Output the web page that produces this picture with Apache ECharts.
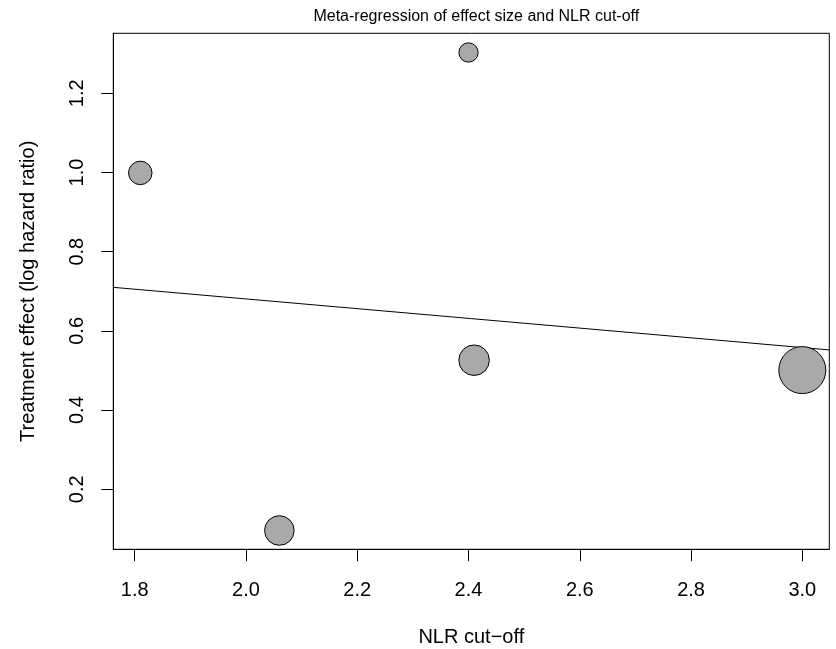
<!DOCTYPE html>
<html>
<head>
<meta charset="utf-8">
<script src="https://cdn.jsdelivr.net/npm/echarts@6/dist/echarts.min.js"></script>
<style>
html,body{margin:0;padding:0;background:#fff;}
#chart{width:836px;height:649px;}
</style>
</head>
<body>
<div id="chart"></div>
<script>
// Study-level data (NLR cut-off vs log hazard ratio)
const nlrCutoff = [1.81, 2.40, 2.06, 2.41, 3.00];
const logHR = [0.999, 1.303, 0.096, 0.526, 0.501];
// relative study weights (bubble size, largest = 1)
const studyWeight = [0.50, 0.41, 0.63, 0.65, 1.00];
// fitted meta-regression line (ends at plot edges)
const fitX = [1.7615, 3.0485];
const fitY = [0.710, 0.552];
// tick labels
const xTicks = [1.8, 2.0, 2.2, 2.4, 2.6, 2.8, 3.0];
const yTicks = [0.2, 0.4, 0.6, 0.8, 1.0, 1.2];

const FONT = "'Liberation Sans', Arial, Helvetica, sans-serif";
const BUBBLE_MAX = 47;

const chart = echarts.init(document.getElementById('chart'), null, {renderer: 'canvas'});

const points = nlrCutoff.map((x, i) => [x, logHR[i], studyWeight[i]]);
const fitLine = fitX.map((x, i) => [x, fitY[i]]);

chart.setOption({
  animation: false,
  backgroundColor: '#fff',
  title: {
    text: 'Meta-regression of effect size and NLR cut-off',
    left: 471.3,
    top: 4,
    textAlign: 'center',
    textStyle: {fontFamily: FONT, fontSize: 16, fontWeight: 'normal', color: '#000'}
  },
  grid: {
    left: 113.3, right: 6.7, top: 33.3, bottom: 99.7,
    containLabel: false,
    outerBoundsMode: 'none',
    show: true, borderColor: '#000', borderWidth: 1, backgroundColor: 'transparent'
  },
  xAxis: {
    type: 'value',
    min: 1.7615, max: 3.0485,
    name: 'NLR cut\u2212off',
    nameLocation: 'middle',
    nameGap: 78,
    nameTextStyle: {fontFamily: FONT, fontSize: 20, color: '#000'},
    axisLine: {show: true, onZero: false, lineStyle: {color: '#000', width: 1}},
    axisTick: {show: true, inside: false, length: 12, customValues: xTicks, lineStyle: {color: '#000', width: 1}},
    axisLabel: {show: true, margin: 31, customValues: xTicks, fontFamily: FONT, fontSize: 20, color: '#000',
      formatter: v => v.toFixed(1)},
    splitLine: {show: false}
  },
  yAxis: {
    type: 'value',
    min: 0.0485, max: 1.3515,
    name: 'Treatment effect (log hazard ratio)',
    nameLocation: 'middle',
    nameGap: 75,
    nameRotate: 90,
    nameTextStyle: {fontFamily: FONT, fontSize: 20, color: '#000'},
    axisLine: {show: true, onZero: false, lineStyle: {color: '#000', width: 1}},
    axisTick: {show: true, inside: false, length: 12, customValues: yTicks, lineStyle: {color: '#000', width: 1}},
    axisLabel: {show: true, margin: 26, rotate: 90, customValues: yTicks, fontFamily: FONT, fontSize: 20, color: '#000',
      formatter: v => v.toFixed(1)},
    splitLine: {show: false}
  },
  series: [
    {
      type: 'line',
      data: fitLine,
      showSymbol: false,
      symbol: 'none',
      clip: true,
      lineStyle: {color: '#000', width: 1},
      z: 1
    },
    {
      type: 'scatter',
      data: points,
      symbol: 'circle',
      symbolSize: d => d[2] * BUBBLE_MAX,
      itemStyle: {color: '#A9A9A9', borderColor: '#000', borderWidth: 1, opacity: 1},
      z: 2
    }
  ]
});
</script>
</body>
</html>
